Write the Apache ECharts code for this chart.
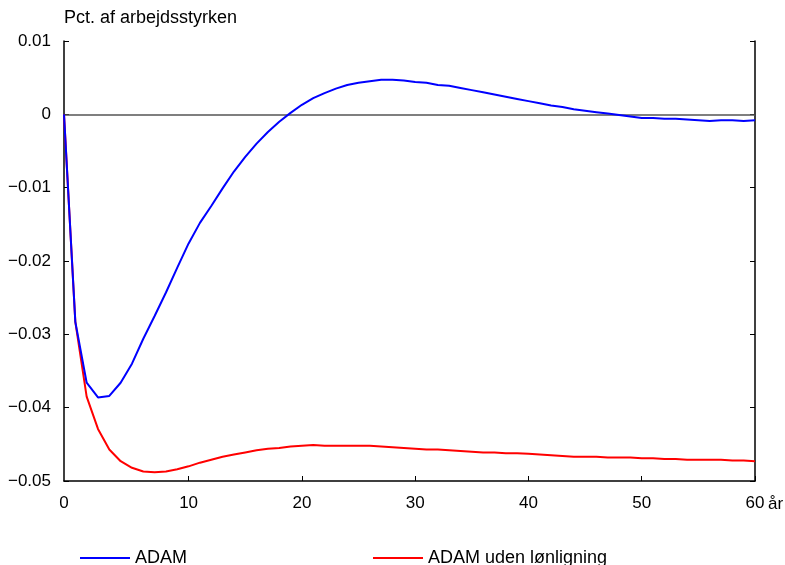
<!DOCTYPE html>
<html><head><meta charset="utf-8">
<script src="https://cdn.jsdelivr.net/npm/echarts@6/dist/echarts.min.js"></script>
<style>html,body{margin:0;padding:0;background:#fff}#c{width:785px;height:565px}</style>
</head><body><div id="c"></div>
<script>
// years: -1 is the pre-shock point at the left edge
var years = [];
for (var i = -1; i <= 60; i++) years.push(i);
var adam = [0, -0.0283, -0.0366, -0.0386, -0.0384, -0.0366, -0.0340, -0.0306, -0.0275, -0.0243, -0.0209,
  -0.0176, -0.0148, -0.0125, -0.0101, -0.0078, -0.0058, -0.0040, -0.0024, -0.0010, 0.0002,
  0.0013, 0.0022, 0.0029, 0.0035, 0.0040, 0.0043, 0.0045, 0.0047, 0.0047, 0.0046,
  0.0044, 0.0043, 0.0040, 0.0039, 0.0036, 0.0033, 0.0030, 0.0027, 0.0024, 0.0021,
  0.0018, 0.0015, 0.0012, 0.0010, 0.0007, 0.0005, 0.0003, 0.0001, -0.0001, -0.0003,
  -0.0005, -0.0005, -0.0006, -0.0006, -0.0007, -0.0008, -0.0009, -0.0008, -0.0008, -0.0009, -0.0008];
var adamUden = [0, -0.0283, -0.0385, -0.0429, -0.0457, -0.0473, -0.0482, -0.0487, -0.0488, -0.0487, -0.0484,
  -0.0480, -0.0475, -0.0471, -0.0467, -0.0464, -0.0461, -0.0458, -0.0456, -0.0455, -0.0453,
  -0.0452, -0.0451, -0.0452, -0.0452, -0.0452, -0.0452, -0.0452, -0.0453, -0.0454, -0.0455,
  -0.0456, -0.0457, -0.0457, -0.0458, -0.0459, -0.0460, -0.0461, -0.0461, -0.0462, -0.0462,
  -0.0463, -0.0464, -0.0465, -0.0466, -0.0467, -0.0467, -0.0467, -0.0468, -0.0468, -0.0468,
  -0.0469, -0.0469, -0.0470, -0.0470, -0.0471, -0.0471, -0.0471, -0.0471, -0.0472, -0.0472, -0.0473];
var xTickValues = [10, 20, 30, 40, 50, 60];
var xLabelValues = [-1, 10, 20, 30, 40, 50, 60];
var seriesNames = ['ADAM', 'ADAM uden lønligning'];
var unitLabel = 'Pct. af arbejdsstyrken';
var xUnit = 'år';

function pairs(ys) { return years.map(function (x, i) { return [x, ys[i]]; }); }
var font = 'Liberation Sans, Arial, sans-serif';
var chart = echarts.init(document.getElementById('c'), null, {renderer: 'canvas'});
chart.setOption({
  animation: false,
  backgroundColor: '#fff',
  textStyle: {fontFamily: font},
  grid: {left: 64, right: 30, top: 41, bottom: 84, containLabel: false},
  xAxis: {
    type: 'value', min: -1, max: 60,
    splitLine: {show: false},
    axisLine: {onZero: false, lineStyle: {color: '#000', width: 1.5}},
    axisTick: {inside: true, length: 5, customValues: xTickValues, lineStyle: {color: '#000'}},
    axisLabel: {customValues: xLabelValues, margin: 14, color: '#000', fontSize: 17, fontFamily: font,
      formatter: function (v) { return v === -1 ? '0' : String(v); }}
  },
  yAxis: [{
    type: 'value', min: -0.05, max: 0.01, interval: 0.01,
    splitLine: {show: false},
    axisLine: {show: true, onZero: false, lineStyle: {color: '#000', width: 1.5}},
    axisTick: {show: true, inside: true, length: 5, lineStyle: {color: '#000'}},
    axisLabel: {margin: 13, color: '#000', fontSize: 17, fontFamily: font,
      formatter: function (v) { var r = Math.round(v * 100) / 100; return r === 0 ? '0' : (r < 0 ? '\u2212' + Math.abs(r).toFixed(2) : r.toFixed(2)); }}
  }, {
    type: 'value', min: -0.05, max: 0.01, interval: 0.01, position: 'right',
    splitLine: {show: false},
    axisLine: {show: true, onZero: false, lineStyle: {color: '#000', width: 1.5}},
    axisTick: {show: true, inside: true, length: 5, lineStyle: {color: '#000'}},
    axisLabel: {show: false}
  }],
  legend: [{
    data: [seriesNames[0]], left: 75, top: 544, itemWidth: 50, itemHeight: 14, itemGap: 10,
    textStyle: {fontSize: 18, color: '#000', fontFamily: font}, icon: 'path://M0,6L50,6L50,8L0,8Z'
  }, {
    data: [seriesNames[1]], left: 368, top: 544, itemWidth: 50, itemHeight: 14, itemGap: 10,
    textStyle: {fontSize: 18, color: '#000', fontFamily: font}, icon: 'path://M0,6L50,6L50,8L0,8Z'
  }],
  graphic: [
    {type: 'text', left: 64, top: 9, style: {text: unitLabel, font: '18px ' + font, fill: '#000'}},
    {type: 'text', left: 768, top: 496, style: {text: xUnit, font: '17px ' + font, fill: '#000'}}
  ],
  series: [{
    name: seriesNames[0], type: 'line', data: pairs(adam), showSymbol: false, symbol: 'none',
    itemStyle: {color: '#0000ff'}, lineStyle: {color: '#0000ff', width: 2}, z: 3,
    markLine: {silent: true, symbol: 'none', label: {show: false},
      lineStyle: {color: '#555', width: 1.5, type: 'solid'}, data: [{yAxis: 0}], z: 1}
  }, {
    name: seriesNames[1], type: 'line', data: pairs(adamUden), showSymbol: false, symbol: 'none',
    itemStyle: {color: '#ff0000'}, lineStyle: {color: '#ff0000', width: 2}, z: 2
  }]
});
</script></body></html>
